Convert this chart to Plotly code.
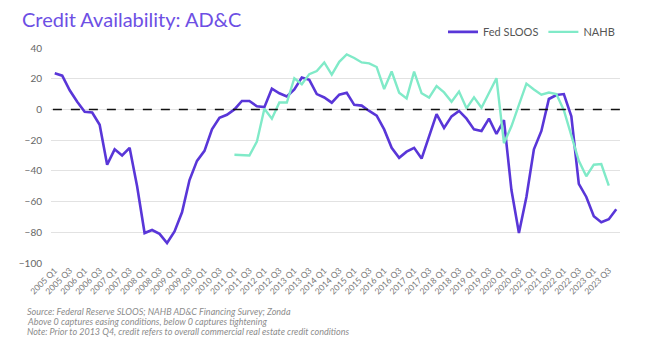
import plotly.graph_objects as go

quarters = [f"{y} Q{q}" for y in range(2005, 2024) for q in range(1, 5)]

fed_sloos = [23.5, 22, 12.5, 5, -1.5, -2, -10, -36, -26, -30, -25, -50, -80.5, -78.5, -81, -87,
             -79.5, -67, -46, -33.5, -27, -13, -5.5, -3.5, 0, 5.5, 5.5, 2, 1.5, 13.5, 10.5, 8.5,
             13, 20.8, 19.3, 10, 7.8, 4.4, 9.6, 10.8, 3, 2.5, -1, -4, -13, -25, -31.5, -27.5,
             -25, -32, -17.5, -3, -12, -4.5, -1, -6, -13, -14, -6, -16, -7, -52.5, -80.5, -57,
             -26, -14, 6.8, 9.4, 10, -4.5, -48.5, -57, -69.5, -73.5, -71.5, -65]

nahb_quarters = quarters[24:75]
nahb = [-29.5, -29.8, -30, -21, 0.5, -6, 4.5, 4.5, 20.3, 16.4, 23, 25, 30.6, 22.7, 31, 35.8,
        33.5, 30.6, 30, 27.6, 13.3, 24.7, 10.9, 7.2, 24.6, 10.5, 7.7, 15.2, 11.1, 5, 11.6, 0.7,
        7.9, 1.1, 10.5, 20.3, -22, -11, 3, 16.8, 13, 9.6, 11, 10, -0.5, -17, -33.5, -43.5,
        -36, -35.6, -49.6]

tick_labels = quarters[::2]

FONT = "Lato"
fig = go.Figure()
fig.add_trace(go.Scatter(x=quarters, y=fed_sloos, mode="lines", name="Fed SLOOS",
                         line=dict(color="#5936D8", width=2.6)))
fig.add_trace(go.Scatter(x=nahb_quarters, y=nahb, mode="lines", name="NAHB",
                         line=dict(color="#80EAC8", width=2.4)))

fig.add_shape(type="line", xref="x", yref="y", x0=-0.25, x1=75.6, y0=0, y1=0,
              line=dict(color="#111111", width=1.6, dash="dash"), layer="above")

fig.update_layout(
    width=652, height=351,
    margin=dict(l=51, r=32, t=48, b=88),
    paper_bgcolor="white", plot_bgcolor="white",
    font=dict(family=FONT, color="#666666"),
    title=dict(text="Credit Availability: AD&C", x=22/652, xanchor="left", xref="container",
               y=1-20/351, yanchor="middle", yref="container",
               font=dict(family=FONT, size=20, color="#6D4FE4", weight="normal")),
    showlegend=True,
    legend=dict(orientation="h", x=1.0, xanchor="right", y=1.075, yanchor="middle",
                font=dict(size=11, color="#555555"), bgcolor="rgba(0,0,0,0)",
                itemwidth=30, tracegroupgap=0),
    xaxis=dict(type="category", categoryorder="array", categoryarray=quarters,
               range=[-0.5, 75.5], tickmode="array", tickvals=tick_labels, ticktext=tick_labels,
               tickangle=-45, tickfont=dict(size=8.5, color="#777777"),
               showgrid=False, zeroline=False, showline=False, ticks=""),
    yaxis=dict(range=[-100, 40], tickmode="array", tickvals=[-100, -80, -60, -40, -20, 0, 20, 40],
               showgrid=True, gridcolor="#E2E2E2", gridwidth=1, zeroline=False,
               tickfont=dict(size=10, color="#666666"), ticks="", ticklabelstandoff=8),
)

notes = ["Source: Federal Reserve SLOOS; NAHB AD&C Financing Survey; Zonda",
         "Above 0 captures easing conditions, below 0 captures tightening",
         "Note: Prior to 2013 Q4, credit refers to overall commercial real estate credit conditions"]
for k, t in enumerate(notes):
    fig.add_annotation(text=f"<i>{t}</i>", xref="paper", yref="paper",
                       x=(25-51)/569, xanchor="left", y=-(311.7 + 10*k - 263)/215, yanchor="middle",
                       showarrow=False, font=dict(family=FONT, size=9, color="#8C8C8C"))

fig.write_html("out.html")
